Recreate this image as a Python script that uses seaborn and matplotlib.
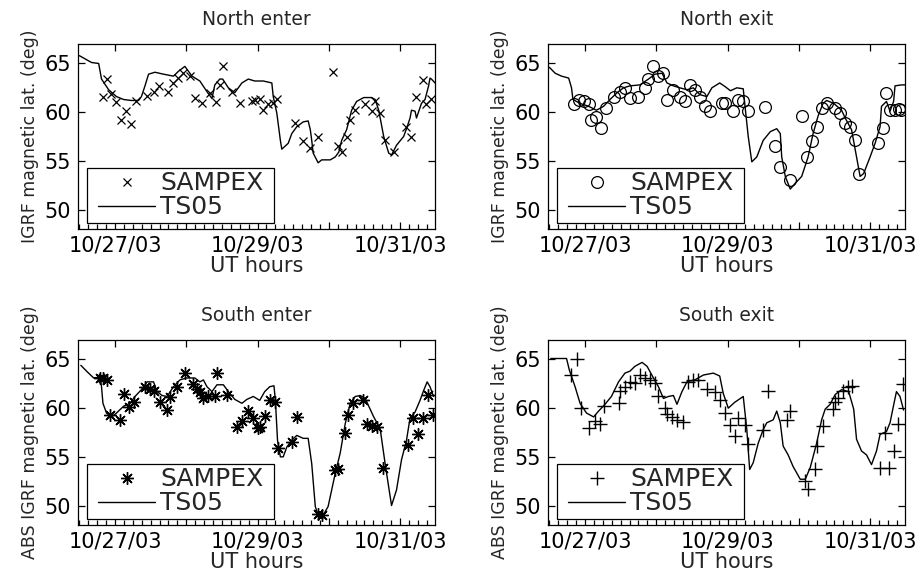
import matplotlib
matplotlib.use("Agg")
import matplotlib.pyplot as plt
import matplotlib.dates as mdates
from matplotlib.lines import Line2D
from matplotlib.patches import Rectangle
from matplotlib.ticker import FuncFormatter, FixedLocator
import numpy as np
import pandas as pd
import seaborn as sns

# Times are days since 2003-10-27 00:00 UT; latitudes in degrees.
EPOCH = pd.Timestamp("2003-10-27")

# --- North enter ---
ne_ts05_t = [-0.50, -0.33, -0.23, -0.19, -0.09, 0.02, 0.12, 0.23, 0.33, 0.37, 0.42, 0.47, 0.56, 0.68,
             0.82, 0.89, 0.98, 1.01, 1.08, 1.19, 1.29, 1.36, 1.40, 1.47, 1.51, 1.59, 1.68, 1.78, 1.87,
             1.96, 2.08, 2.20, 2.22, 2.27, 2.32, 2.34, 2.43, 2.48, 2.55, 2.64, 2.71, 2.74, 2.76, 2.78,
             2.85, 2.90, 3.02, 3.09, 3.14, 3.18, 3.25, 3.32, 3.39, 3.49, 3.60, 3.65, 3.70, 3.77, 3.84,
             3.88, 3.95, 4.05, 4.09, 4.14, 4.16, 4.21, 4.23, 4.30, 4.35, 4.40, 4.42, 4.44, 4.49]
ne_ts05_lat = [65.8, 65.1, 65.0, 63.4, 62.3, 61.6, 61.3, 61.2, 61.2, 61.6, 62.7, 63.9, 64.1, 63.9,
               63.7, 64.2, 64.7, 64.4, 63.7, 63.2, 62.1, 61.4, 62.8, 63.4, 63.4, 62.5, 62.0, 63.0, 63.4,
               63.2, 63.2, 63.0, 61.6, 59.9, 57.1, 56.2, 56.8, 57.8, 58.5, 59.0, 59.1, 58.2, 57.1, 55.8,
               54.8, 55.1, 55.1, 55.4, 55.9, 57.1, 58.2, 60.2, 61.1, 61.5, 61.5, 61.3, 60.2, 57.5, 55.8,
               55.6, 56.6, 57.5, 58.3, 59.4, 60.2, 60.1, 59.4, 60.9, 61.3, 62.7, 63.5, 63.4, 63.0]
ne_sampex_t = [-0.17, -0.12, -0.05, 0.02, 0.08, 0.16, 0.22, 0.30, 0.45, 0.54, 0.62, 0.75, 0.82, 0.89,
               0.96, 1.05, 1.12, 1.22, 1.33, 1.41, 1.47, 1.52, 1.64, 1.75, 1.92, 1.97, 2.04, 2.08, 2.15,
               2.21, 2.27, 2.53, 2.64, 2.74, 2.85, 3.06, 3.13, 3.18, 3.25, 3.30, 3.37, 3.51, 3.60, 3.65,
               3.72, 3.79, 3.91, 4.09, 4.16, 4.23, 4.32, 4.36, 4.44]
ne_sampex_lat = [61.6, 63.4, 61.9, 61.0, 59.2, 60.1, 58.8, 61.1, 61.7, 62.1, 62.7, 62.1, 63.0, 63.5,
                 64.0, 63.7, 61.5, 60.9, 62.0, 61.0, 62.8, 64.7, 62.1, 60.9, 61.1, 61.2, 61.4, 60.2, 60.8,
                 60.9, 61.4, 58.9, 57.0, 56.3, 57.5, 64.1, 56.5, 55.9, 57.5, 59.2, 60.2, 60.8, 60.1, 61.1,
                 59.9, 57.1, 55.9, 58.5, 57.5, 61.6, 63.3, 60.8, 61.4]

# --- North exit ---
nx_ts05_t = [-0.50, -0.42, -0.33, -0.23, -0.19, -0.17, -0.07, 0.05, 0.16, 0.26, 0.35, 0.45, 0.54, 0.63,
             0.77, 0.89, 0.98, 1.08, 1.15, 1.24, 1.33, 1.43, 1.52, 1.61, 1.71, 1.78, 1.89, 1.97, 2.04,
             2.13, 2.22, 2.245, 2.29, 2.34, 2.41, 2.50, 2.60, 2.69, 2.74, 2.76, 2.81, 2.88, 2.95, 3.04,
             3.13, 3.20, 3.27, 3.34, 3.39, 3.49, 3.60, 3.65, 3.74, 3.81, 3.86, 3.91, 4.00, 4.07, 4.14,
             4.16, 4.23, 4.28, 4.33, 4.35, 4.44, 4.49]
nx_ts05_lat = [64.6, 64.0, 63.7, 63.5, 62.5, 61.3, 60.9, 60.6, 60.2, 60.6, 61.3, 62.0, 62.5, 62.7,
               62.8, 63.4, 63.9, 64.0, 63.0, 62.7, 62.5, 62.3, 62.5, 61.8, 61.6, 62.5, 63.0, 62.6, 62.2,
               62.5, 62.4, 60.6, 57.5, 54.9, 55.4, 57.1, 58.0, 58.3, 57.8, 55.4, 53.4, 52.1, 52.7, 53.4,
               55.4, 57.8, 59.6, 60.9, 61.2, 60.9, 60.2, 59.4, 58.2, 55.4, 53.4, 53.7, 55.4, 56.8, 58.5,
               60.6, 61.1, 60.1, 61.1, 62.7, 62.8, 62.8]
nx_sampex_t = [-0.16, -0.09, -0.02, 0.06, 0.09, 0.16, 0.23, 0.30, 0.40, 0.49, 0.56, 0.63, 0.75, 0.84,
               0.89, 0.96, 1.03, 1.10, 1.15, 1.24, 1.33, 1.40, 1.47, 1.54, 1.61, 1.68, 1.75, 1.92, 1.97,
               2.08, 2.15, 2.22, 2.29, 2.53, 2.67, 2.73, 2.88, 3.04, 3.11, 3.18, 3.25, 3.32, 3.39, 3.51,
               3.58, 3.65, 3.72, 3.79, 3.85, 4.11, 4.18, 4.23, 4.28, 4.35, 4.40, 4.44]
nx_sampex_lat = [60.8, 61.3, 61.1, 60.8, 59.2, 59.5, 58.4, 60.4, 61.6, 62.1, 62.5, 61.5, 61.6, 62.5,
                 63.4, 64.7, 63.7, 64.0, 61.3, 62.3, 61.6, 61.1, 62.8, 62.3, 61.6, 60.6, 60.1, 60.9, 60.9,
                 60.1, 61.3, 61.1, 60.1, 60.5, 56.5, 54.4, 53.0, 59.6, 55.4, 57.0, 58.5, 60.4, 60.9, 60.4,
                 59.9, 58.9, 58.5, 57.1, 53.6, 56.8, 58.4, 62.0, 60.2, 60.2, 60.3, 60.2]

# --- South enter ---
se_ts05_t = [-0.48, -0.40, -0.30, -0.21, -0.19, -0.17, -0.12, -0.05, 0.02, 0.12, 0.21, 0.28, 0.37, 0.45,
             0.54, 0.59, 0.66, 0.73, 0.82, 0.91, 1.00, 1.12, 1.19, 1.24, 1.29, 1.36, 1.43, 1.52, 1.59,
             1.68, 1.78, 1.85, 1.94, 2.03, 2.10, 2.17, 2.23, 2.25, 2.28, 2.32, 2.36, 2.41, 2.48, 2.55,
             2.64, 2.71, 2.76, 2.81, 2.85, 2.92, 2.99, 3.09, 3.16, 3.23, 3.30, 3.37, 3.44, 3.51, 3.63,
             3.72, 3.79, 3.88, 3.95, 4.02, 4.09, 4.14, 4.21, 4.28, 4.33, 4.38, 4.42, 4.47]
se_ts05_lat = [64.4, 63.8, 63.1, 63.2, 62.2, 60.5, 59.5, 59.1, 59.5, 60.2, 60.5, 61.2, 61.9, 62.7,
               62.7, 61.7, 61.3, 61.2, 62.2, 62.9, 63.1, 63.1, 62.7, 62.9, 62.2, 61.7, 62.4, 62.4, 61.7,
               60.9, 60.5, 60.9, 61.2, 60.8, 61.7, 62.2, 62.3, 60.8, 56.7, 55.0, 55.0, 56.0, 56.7, 57.2,
               56.9, 56.9, 54.3, 49.9, 49.0, 49.0, 49.9, 53.3, 55.4, 58.4, 60.5, 61.2, 61.3, 61.0, 59.1,
               57.9, 54.3, 50.0, 51.6, 54.7, 56.7, 59.0, 59.6, 60.8, 61.8, 62.7, 62.2, 61.2]
se_sampex_t = [-0.21, -0.17, -0.12, -0.07, 0.07, 0.12, 0.19, 0.26, 0.42, 0.49, 0.55, 0.63, 0.73, 0.77,
               0.87, 0.98, 1.10, 1.15, 1.19, 1.24, 1.31, 1.40, 1.43, 1.57, 1.71, 1.78, 1.87, 1.94, 2.01,
               2.03, 2.10, 2.17, 2.24, 2.28, 2.48, 2.55, 2.85, 2.90, 3.09, 3.13, 3.23, 3.27, 3.34, 3.48,
               3.53, 3.60, 3.67, 3.76, 4.11, 4.18, 4.25, 4.32, 4.39, 4.46]
se_sampex_lat = [63.1, 63.1, 62.9, 59.3, 58.8, 61.5, 60.1, 60.6, 62.2, 62.0, 61.8, 60.6, 59.8, 61.1,
                 62.2, 63.6, 62.5, 62.0, 61.7, 61.0, 61.2, 61.2, 63.6, 61.4, 58.1, 58.7, 59.7, 59.0, 58.0,
                 58.1, 59.2, 60.8, 60.6, 55.9, 56.5, 59.1, 49.1, 49.0, 53.6, 53.8, 57.4, 59.3, 60.5, 60.8,
                 58.4, 58.2, 58.1, 53.9, 56.2, 59.0, 57.3, 59.0, 61.4, 59.3]

# --- South exit ---
sx_ts05_t = [-0.48, -0.26, -0.22, -0.14, -0.07, 0.02, 0.12, 0.19, 0.28, 0.37, 0.47, 0.56, 0.63, 0.70,
             0.80, 0.87, 0.96, 1.03, 1.10, 1.17, 1.24, 1.29, 1.36, 1.43, 1.54, 1.66, 1.80, 1.89, 1.94,
             2.01, 2.10, 2.22, 2.27, 2.31, 2.36, 2.43, 2.50, 2.55, 2.64, 2.69, 2.74, 2.78, 2.85, 2.92,
             3.02, 3.09, 3.16, 3.25, 3.32, 3.37, 3.44, 3.51, 3.60, 3.70, 3.77, 3.81, 3.88, 3.95, 4.02,
             4.09, 4.14, 4.23, 4.28, 4.33, 4.37, 4.42, 4.47]
sx_ts05_lat = [65.1, 65.1, 63.9, 62.2, 60.5, 59.5, 59.1, 59.7, 60.4, 61.2, 62.7, 63.6, 63.8, 64.3,
               64.7, 64.3, 63.1, 62.2, 61.0, 61.2, 61.3, 60.4, 61.7, 62.7, 62.9, 63.4, 63.6, 63.3, 61.5,
               60.0, 60.6, 61.2, 57.8, 53.7, 54.4, 56.4, 57.8, 58.5, 58.8, 59.7, 58.5, 56.1, 55.2, 54.0,
               52.7, 52.7, 53.9, 56.4, 58.8, 59.9, 60.4, 61.4, 61.9, 61.7, 59.9, 56.8, 55.6, 55.2, 54.2,
               55.6, 57.3, 57.6, 58.5, 60.3, 61.7, 61.2, 59.8]
sx_sampex_t = [-0.20, -0.12, -0.05, 0.05, 0.14, 0.21, 0.26, 0.47, 0.49, 0.56, 0.63, 0.70, 0.77, 0.84,
               0.91, 0.98, 1.03, 1.12, 1.15, 1.22, 1.29, 1.38, 1.45, 1.52, 1.59, 1.71, 1.82, 1.89, 1.96,
               2.03, 2.10, 2.15, 2.25, 2.29, 2.50, 2.57, 2.83, 2.88, 3.09, 3.13, 3.23, 3.25, 3.34, 3.48,
               3.51, 3.55, 3.62, 3.69, 3.74, 4.14, 4.21, 4.26, 4.33, 4.39, 4.46]
sx_sampex_lat = [63.4, 65.1, 60.0, 58.0, 58.7, 58.4, 60.2, 60.5, 61.8, 62.2, 62.7, 62.6, 63.4, 63.1,
                 62.9, 62.6, 61.3, 60.0, 59.4, 59.1, 58.8, 58.6, 62.7, 62.9, 62.9, 62.0, 61.7, 60.8, 59.5,
                 58.3, 57.1, 59.0, 58.3, 56.3, 57.8, 61.8, 58.8, 59.7, 52.5, 51.7, 53.8, 56.1, 58.2, 59.9,
                 60.6, 61.0, 61.8, 62.2, 62.3, 53.9, 57.4, 53.9, 55.6, 58.4, 62.5]

TITLES = ["North enter", "North exit", "South enter", "South exit"]
YLABELS = ["IGRF magnetic lat. (deg)", "IGRF magnetic lat. (deg)",
           "ABS IGRF magnetic lat. (deg)", "ABS IGRF magnetic lat. (deg)"]
XLABEL = "UT hours"
LEGEND_LABELS = ["SAMPEX", "TS05"]
YTICKS = [50, 55, 60, 65]

panels = [
    (ne_ts05_t, ne_ts05_lat, ne_sampex_t, ne_sampex_lat, dict(marker="x", ms=6, mew=0.9)),
    (nx_ts05_t, nx_ts05_lat, nx_sampex_t, nx_sampex_lat, dict(marker="o", ms=8.5, mew=0.9, mfc="none")),
    (se_ts05_t, se_ts05_lat, se_sampex_t, se_sampex_lat, dict(marker=(8, 2, 0), ms=9, mew=1.0)),
    (sx_ts05_t, sx_ts05_lat, sx_sampex_t, sx_sampex_lat, dict(marker="+", ms=9.5, mew=1.0)),
]

sns.set_style("white")
plt.rcParams.update({
    "font.family": ["DejaVu Sans"],
    "axes.linewidth": 0.9,
    "xtick.direction": "in", "ytick.direction": "in",
    "xtick.bottom": True, "xtick.top": True,
    "ytick.left": True, "ytick.right": True,
    "xtick.minor.bottom": True, "xtick.minor.top": False,
    "xtick.minor.size": 3.5, "xtick.minor.width": 0.9,
    "xtick.major.size": 5.0, "xtick.major.width": 0.9,
    "ytick.major.size": 5.0, "ytick.major.width": 0.9,
    "xtick.color": "k", "ytick.color": "k",
})

W, H = 922, 573
fig = plt.figure(figsize=(W / 100, H / 100), dpi=100)
boxes = [(78, 44), (548, 44), (78, 340), (548, 340)]  # left, top in pixels
AX_W, AX_H = 357, 185

T0, T1 = -0.52, 4.49  # time window, days


def to_time(days):
    return EPOCH + pd.to_timedelta(np.asarray(days), unit="D")


def day_label(x, pos):
    d = mdates.num2date(x)
    return d.strftime("%m/%d/%y") if d.day % 2 == 1 else ""


# Every-day major ticks and 3-hourly minor ticks along the bottom edge.
day_ticks = mdates.date2num(to_time(np.arange(0, 5)).to_pydatetime())
hour_ticks = mdates.date2num(to_time(np.arange(-0.5, 4.5, 0.125)).to_pydatetime())

for (mt, mlat, st, slat, mk), title, ylab, (px, py) in zip(panels, TITLES, YLABELS, boxes):
    ax = fig.add_axes([px / W, 1 - (py + AX_H) / H, AX_W / W, AX_H / H])
    model = pd.DataFrame({"time": to_time(mt), "lat": mlat})
    obs = pd.DataFrame({"time": to_time(st), "lat": slat})
    sns.lineplot(data=model, x="time", y="lat", ax=ax, color="k", lw=1.0,
                 estimator=None, sort=False)
    sns.lineplot(data=obs, x="time", y="lat", ax=ax, color="k", linestyle="none",
                 estimator=None, sort=False, mec="k", **mk)

    ax.set_xlim(to_time(T0), to_time(T1))
    ax.set_ylim(48, 67)
    ax.set_yticks(YTICKS)
    ax.xaxis.set_major_locator(FixedLocator(day_ticks))
    ax.xaxis.set_major_formatter(FuncFormatter(day_label))
    ax.xaxis.set_minor_locator(FixedLocator(hour_ticks))
    ax.xaxis.set_tick_params(which="major", bottom=True, top=True, direction="in")
    ax.xaxis.set_tick_params(which="minor", bottom=True, top=False, direction="in")
    ax.tick_params(which="major", labelsize=15, pad=5)
    for s in ax.spines.values():
        s.set_color("k")
    ax.set_title(title, fontsize=13.5, pad=14)
    ax.set_xlabel(XLABEL, fontsize=15, labelpad=0)
    ax.set_ylabel(ylab, fontsize=12.5, labelpad=4)

    # Legend: square white box in the lower-left corner, entries inset from its left edge.
    ax.add_patch(Rectangle((9 / AX_W, 6 / AX_H), 187 / AX_W, 55 / AX_H, transform=ax.transAxes,
                           facecolor="white", edgecolor="k", lw=0.9, zorder=4))
    handles = [Line2D([], [], color="k", linestyle="none", mec="k", **mk),
               Line2D([], [], color="k", lw=1.0)]
    leg = ax.legend(handles, LEGEND_LABELS, loc="center left",
                    bbox_to_anchor=(20 / AX_W, 6 / AX_H, 170 / AX_W, 55 / AX_H),
                    fontsize=18, frameon=False, handlelength=2.28, handletextpad=0.2,
                    labelspacing=0.0, borderpad=0, borderaxespad=0)
    leg.set_zorder(5)

fig.savefig("out.png", dpi=100)
